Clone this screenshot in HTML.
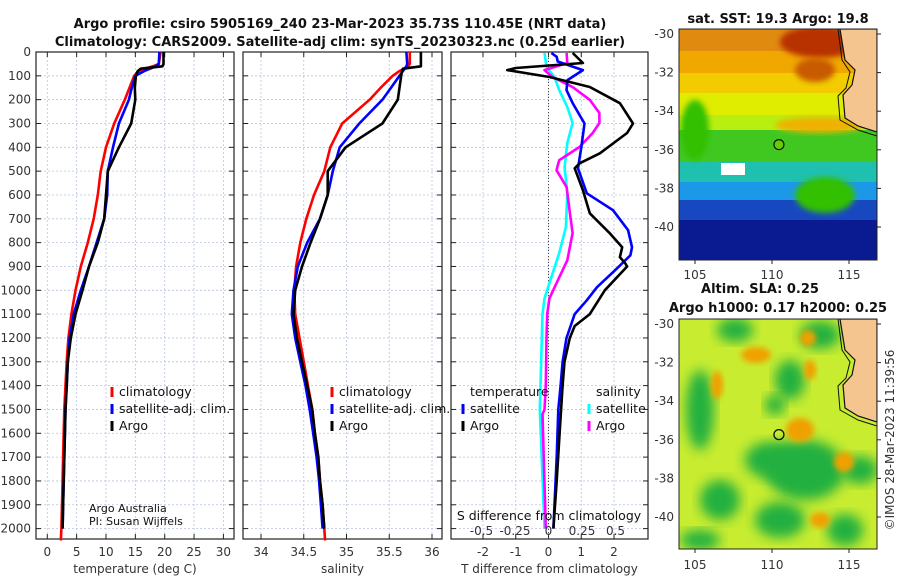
<!DOCTYPE html>
<html><head><meta charset="utf-8"><style>
body{margin:0;background:#fff;}
svg{display:block;font-family:"DejaVu Sans","Liberation Sans",sans-serif;}
.t{font-size:13px;font-weight:bold;fill:#111;}
.tk{font-size:12px;fill:#333;}
.lg{font-size:12.5px;fill:#111;}
</style></head><body>
<svg id="c" width="900" height="580" viewBox="0 0 900 580">
<defs>
<filter id="bl" x="-20%" y="-20%" width="140%" height="140%"><feGaussianBlur stdDeviation="6"/></filter>
<filter id="bl2" x="-20%" y="-20%" width="140%" height="140%"><feGaussianBlur stdDeviation="3"/></filter>
<clipPath id="m1"><rect x="679" y="29" width="198" height="231"/></clipPath>
<clipPath id="m2"><rect x="679" y="319" width="198" height="230"/></clipPath>
</defs>
<text class="t" x="340" y="28" text-anchor="middle">Argo profile: csiro 5905169_240 23-Mar-2023 35.73S 110.45E (NRT data)</text>
<text class="t" x="340" y="46" text-anchor="middle">Climatology: CARS2009. Satellite-adj clim: synTS_20230323.nc (0.25d earlier)</text>
<g id="plots"></g>
<g id="maps"></g>
<text class="tk" x="894" y="440" text-anchor="middle" transform="rotate(-90 894 440)">©IMOS 28-Mar-2023 11:39:56</text>
</svg>
<script>
const depths=[0,50,60,70,80,100,150,200,300,400,500,600,700,800,900,1000,1100,1200,1300,1400,1500,1600,1700,1800,1900,2000];
const climDepths=[0,50,60,70,80,100,150,200,300,400,500,600,700,800,900,1000,1100,1200,1300,1400,1500,1600,1700,1800,1900,2000,2050];
const tArgo=[19.8,19.8,19.6,15.9,15.4,15.1,14.9,15.0,14.3,12.2,10.3,10.0,9.7,8.6,7.1,6.0,4.8,4.0,3.5,3.3,3.1,3.0,2.9,2.8,2.7,2.6];
const tClim=[19.3,19.0,18.0,16.5,15.5,14.8,14.0,13.2,11.4,10.0,9.1,8.6,7.9,6.9,5.7,4.8,4.1,3.6,3.3,3.1,2.9,2.8,2.7,2.6,2.5,2.4,2.3];
const tSat=[19.1,19.0,18.5,17.5,16.5,15.0,14.4,13.9,12.2,11.2,10.3,10.2,9.7,8.4,7.1,5.7,4.5,3.8,3.5,3.3,3.1,3.0,2.9,2.8,2.7,2.6];
const sArgo=[35.87,35.87,35.87,35.66,35.65,35.64,35.62,35.6,35.42,34.99,34.78,34.78,34.69,34.58,34.48,34.40,34.38,34.42,34.48,34.54,34.6,34.63,34.67,34.69,34.72,34.74];
const sClim=[35.74,35.74,35.72,35.68,35.62,35.54,35.4,35.27,34.95,34.81,34.74,34.62,34.53,34.46,34.41,34.39,34.40,34.45,34.50,34.55,34.6,34.63,34.67,34.69,34.72,34.74,34.75];
const sSat=[35.70,35.71,35.70,35.68,35.66,35.62,35.52,35.42,35.15,34.92,34.84,34.78,34.69,34.54,34.43,34.38,34.36,34.40,34.46,34.52,34.57,34.61,34.65,34.68,34.70,34.72];
const dTArgoDep=[4,46,67,76,105,147,215,300,340,384,425,467,488,580,677,762,819,861,886,900,1000,1100,1150,1200,1300,1400,1600,1800,2000];
const dTArgo=[0.74,1.05,-1.0,-1.26,0.03,1.26,2.18,2.58,2.4,1.97,1.57,0.95,0.8,1.05,1.26,1.88,2.25,2.18,2.34,2.4,1.72,1.26,0.8,0.65,0.49,0.43,0.34,0.25,0.15];
const dTSatDep=[4,20,40,76,118,160,215,300,400,488,593,664,748,819,853,916,987,1042,1100,1200,1300,1400,1500,1700,2000];
const dTSat=[0.09,0.25,0.28,1.05,0.58,0.55,0.74,1.1,1.0,0.9,1.17,1.97,2.43,2.55,2.5,2.03,1.48,1.17,0.8,0.55,0.43,0.37,0.3,0.25,0.15];
const dSSatDep=[4,63,105,160,231,298,382,483,592,735,844,970,1034,1100,1200,1400,1500,2000];
const dSSat=[-0.03,-0.015,0.045,0.08,0.14,0.18,0.14,0.12,0.14,0.13,0.08,0.007,-0.03,-0.045,-0.05,-0.06,-0.065,-0.03];
const dSArgoDep=[4,46,76,105,147,202,256,298,340,399,454,496,567,676,760,874,970,1034,1100,1200,1400,1500,1520,2000];
const dSArgo=[0.135,0.14,-0.03,0.03,0.18,0.31,0.38,0.38,0.33,0.23,0.08,0.06,0.135,0.16,0.18,0.14,0.06,0.007,-0.01,-0.015,-0.02,-0.03,-0.045,-0.02];
const depthTicks=[0,100,200,300,400,500,600,700,800,900,1000,1100,1200,1300,1400,1500,1600,1700,1800,1900,2000];
const tempTicks=[0,5,10,15,20,25,30];
const salTicks=[34,34.5,35,35.5,36];
const dTTicks=[-2,-1,0,1,2];
const dSTicks=[-0.5,-0.25,0,0.25,0.5];
const dSTickLabels=['-0.5','-0.25','0','0.25','0.5'];

const NS='http://www.w3.org/2000/svg';
const plots=document.getElementById('plots');
function el(tag,attrs,parent,txt){const e=document.createElementNS(NS,tag);for(const k in attrs)e.setAttribute(k,attrs[k]);if(txt!==undefined)e.textContent=txt;(parent||plots).appendChild(e);return e;}
const yTop=52,yBot=539;
const yS=d=>yTop+d*0.2383;
const panels=[
 {x0:36,x1:234,f:v=>47.3+v*5.87,ticks:tempTicks,title:'temperature (deg C)',name:'temperature'},
 {x0:243,x1:442,f:v=>261+(v-34)*85.5,ticks:salTicks,title:'salinity',name:'salinity'},
 {x0:451,x1:648,f:v=>548.5+v*32.75,ticks:dTTicks,title:'T difference from climatology',name:'difference'}
];
const fS=v=>548.5+v*134;
panels.forEach((p,i)=>{
 const g=el('g',{});
 
 
 p.ticks.forEach(t=>{const x=p.f(t);el('line',{x1:x,x2:x,y1:yTop,y2:yBot,stroke:'#b8c4e0','stroke-width':0.8,'stroke-dasharray':'2,2'},g);
  el('line',{x1:x,x2:x,y1:yBot,y2:yBot-5,stroke:'#222'},g);el('line',{x1:x,x2:x,y1:yTop,y2:yTop+5,stroke:'#222'},g);
  const lb=el('text',{x:x,y:556,'text-anchor':'middle',class:'tk'},g,String(t));
  
  });
 depthTicks.forEach(d=>{const y=yS(d);el('line',{x1:p.x0,x2:p.x1,y1:y,y2:y,stroke:'#b8c4e0','stroke-width':0.8,'stroke-dasharray':'2,2'},g);
  el('line',{x1:p.x0,x2:p.x0+5,y1:y,y2:y,stroke:'#222'},g);el('line',{x1:p.x1-5,x2:p.x1,y1:y,y2:y,stroke:'#222'},g);
  if(i===0){const lb=el('text',{x:31,y:y+4,'text-anchor':'end',class:'tk'},g,String(d));
   
   }});
 el('rect',{x:p.x0,y:yTop,width:p.x1-p.x0,height:yBot-yTop,fill:'none',stroke:'#222','stroke-width':1.2},g);
 const at=el('text',{x:(p.x0+p.x1)/2,y:573,'text-anchor':'middle',class:'tk','font-size':13},g,p.title);
 
 
});
function line(xs,ds,fx,color,name){
 const pts=xs.map((v,i)=>fx(v).toFixed(1)+','+yS(ds[i]).toFixed(1)).join(' ');
 const l=el('polyline',{points:pts,fill:'none',stroke:color,'stroke-width':2.6,'stroke-linejoin':'round'});
 
 
}
el('line',{x1:548.5,x2:548.5,y1:yTop,y2:yBot,stroke:'#444','stroke-dasharray':'1,2'});
line(tClim,climDepths,panels[0].f,'#f00','temp-climatology-line');
line(tSat,depths,panels[0].f,'#00f','temp-satellite-line');
line(tArgo,depths,panels[0].f,'#000','temp-argo-line');
line(sClim,climDepths,panels[1].f,'#f00','sal-climatology-line');
line(sSat,depths,panels[1].f,'#00f','sal-satellite-line');
line(sArgo,depths,panels[1].f,'#000','sal-argo-line');
line(dSSat,dSSatDep,fS,'#0ff','s-diff-satellite-line');
line(dSArgo,dSArgoDep,fS,'#f0f','s-diff-argo-line');
line(dTSat,dTSatDep,panels[2].f,'#00f','t-diff-satellite-line');
line(dTArgo,dTArgoDep,panels[2].f,'#000','t-diff-argo-line');
const st=el('text',{x:549,y:520,'text-anchor':'middle',class:'lg'},plots,'S difference from climatology');


dSTicks.forEach((t,i)=>{const lb=el('text',{x:fS(t),y:535,'text-anchor':'middle',class:'tk'},plots,dSTickLabels[i]);
 
 });
function leg(x,y,color,txt){const g=el('g',{});
 
 
 if(color)el('line',{x1:x,x2:x,y1:y-9,y2:y+1,stroke:color,'stroke-width':3},g);
 el('text',{x:x+7,y:y,class:'lg'},g,txt);}
leg(112,396,'#f00','climatology');leg(112,413,'#00f','satellite-adj. clim.');leg(112,430,'#000','Argo');
leg(332,396,'#f00','climatology');leg(332,413,'#00f','satellite-adj. clim.');leg(332,430,'#000','Argo');
leg(463,396,null,'temperature');leg(463,413,'#00f','satellite');leg(463,430,'#000','Argo');
leg(589,396,null,'salinity');leg(589,413,'#0ff','satellite');leg(589,430,'#f0f','Argo');
const a1=el('text',{x:89,y:512,'font-size':11,fill:'#111'},plots,'Argo Australia');


const a2=el('text',{x:89,y:525,'font-size':11,fill:'#111'},plots,'PI: Susan Wijffels');



const maps=document.getElementById('maps');
const lonTicks=[105,110,115];
const latTicks=[-30,-32,-34,-36,-38,-40];
const lx=lon=>695+(lon-105)*15.4;
function mapFrame(latTop,name){
 const g=el('g',{},maps);
 
 
 const ly=lat=>latTop+(-30-lat)*19.3;
 return {g,ly};
}
let m=mapFrame(34,'sst-map');
let c=el('g',{'clip-path':'url(#m1)'},m.g);
const sstBands=[['#e08a10',29,22],['#f0a800',51,22],['#f2cc00',73,20],['#e0ec00',93,22],['#b8ee10',115,15],['#40c820',130,32],['#20c0b0',162,20],['#1c98e8',182,18],['#1848c0',200,20],['#0a1a90',220,40]];
sstBands.forEach(b=>el('rect',{x:679,y:b[1],width:198,height:b[2]+2,fill:b[0]},c));
el('ellipse',{cx:820,cy:42,rx:40,ry:16,fill:'#b83000',filter:'url(#bl2)'},c);
el('ellipse',{cx:815,cy:70,rx:20,ry:12,fill:'#c85a00',filter:'url(#bl2)'},c);
el('ellipse',{cx:820,cy:125,rx:45,ry:8,fill:'#f0b000',filter:'url(#bl2)'},c);
el('ellipse',{cx:825,cy:195,rx:30,ry:18,fill:'#30c000',filter:'url(#bl2)'},c);
el('ellipse',{cx:695,cy:130,rx:14,ry:30,fill:'#30c000',filter:'url(#bl2)'},c);
el('rect',{x:721,y:163,width:24,height:12,fill:'#fff'},c);
el('path',{d:'M840,29 L845,60 L855,70 L852,85 L843,95 L845,118 L858,126 L877,132 L877,29 Z',fill:'#f5c58f',stroke:'#111','stroke-width':1.2},c);
el('path',{d:'M838,29 L842,60 L850,72 L846,88 L838,96 L840,120 L858,130 L877,136',fill:'none',stroke:'#111','stroke-width':1},c);
el('circle',{cx:lx(110.45),cy:m.ly(-35.73),r:5,fill:'#6c0',stroke:'#111','stroke-width':1.2},m.g);
el('rect',{x:679,y:29,width:198,height:231,fill:'none',stroke:'#222'},m.g);
el('text',{x:778,y:23,'text-anchor':'middle',class:'t'},m.g,'sat. SST: 19.3 Argo: 19.8');
lonTicks.forEach(t=>{el('text',{x:lx(t),y:279,'text-anchor':'middle',class:'tk'},m.g,String(t));el('line',{x1:lx(t),x2:lx(t),y1:260,y2:264,stroke:'#222'},m.g);});
latTicks.forEach(t=>{el('text',{x:674,y:m.ly(t)+4,'text-anchor':'end',class:'tk'},m.g,String(t));el('line',{x1:877,x2:881,y1:m.ly(t),y2:m.ly(t),stroke:'#222'},m.g);});
m=mapFrame(324,'sla-map');
c=el('g',{'clip-path':'url(#m2)'},m.g);
el('rect',{x:679,y:319,width:198,height:230,fill:'#c8ec30'},c);
const greens=[[735,330,18,12],[700,410,14,40],[720,500,20,20],[790,380,15,20],[820,335,20,14],[770,460,25,18],[805,470,40,30],[860,470,18,14],[845,530,18,16],[780,520,25,18],[700,540,20,10],[775,405,10,10]];
greens.forEach(b=>el('ellipse',{cx:b[0],cy:b[1],rx:b[2],ry:b[3],fill:'#20b040',filter:'url(#bl)'},c));
const oranges=[[717,385,6,14],[800,430,14,12],[808,338,8,8],[810,370,6,10],[844,462,10,10],[756,355,15,8],[820,520,10,8]];
oranges.forEach(b=>el('ellipse',{cx:b[0],cy:b[1],rx:b[2],ry:b[3],fill:'#f0a000',filter:'url(#bl2)'},c));
el('path',{d:'M840,319 L845,350 L855,360 L852,375 L843,385 L845,408 L858,416 L877,422 L877,319 Z',fill:'#f5c58f',stroke:'#111','stroke-width':1.2},c);
el('path',{d:'M838,319 L842,350 L850,362 L846,378 L838,386 L840,410 L858,420 L877,426',fill:'none',stroke:'#111','stroke-width':1},c);
el('circle',{cx:lx(110.45),cy:m.ly(-35.73),r:5,fill:'none',stroke:'#111','stroke-width':1.3},m.g);
el('rect',{x:679,y:319,width:198,height:230,fill:'none',stroke:'#222'},m.g);
el('text',{x:760,y:293,'text-anchor':'middle',class:'t'},m.g,'Altim. SLA: 0.25');
el('text',{x:778,y:312,'text-anchor':'middle',class:'t'},m.g,'Argo h1000: 0.17 h2000: 0.25');
lonTicks.forEach(t=>{el('text',{x:lx(t),y:569,'text-anchor':'middle',class:'tk'},m.g,String(t));el('line',{x1:lx(t),x2:lx(t),y1:549,y2:553,stroke:'#222'},m.g);});
latTicks.forEach(t=>{el('text',{x:674,y:m.ly(t)+4,'text-anchor':'end',class:'tk'},m.g,String(t));el('line',{x1:877,x2:881,y1:m.ly(t),y2:m.ly(t),stroke:'#222'},m.g);});
</script>
</body></html>
